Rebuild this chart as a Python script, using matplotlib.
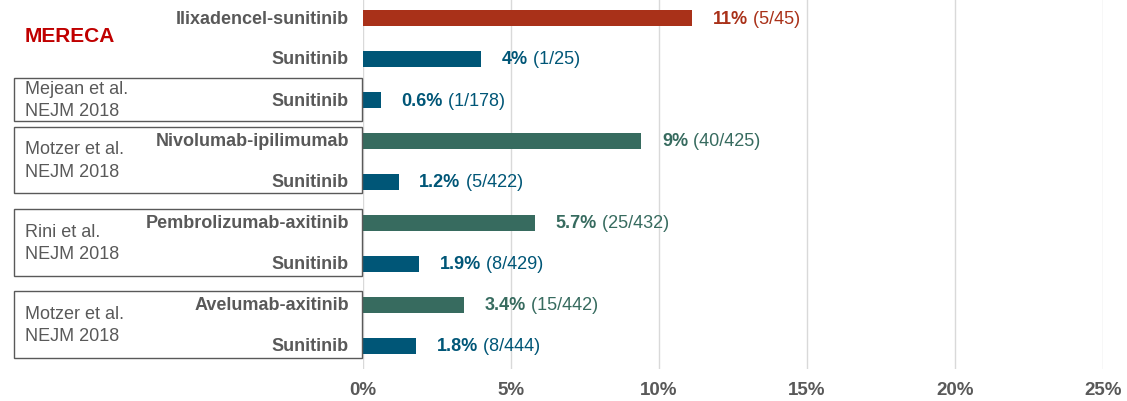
import matplotlib.pyplot as plt
from matplotlib.patches import Rectangle
from matplotlib.transforms import blended_transform_factory

plt.rcParams['font.family'] = ['Liberation Sans', 'DejaVu Sans']

arms = ["Ilixadencel-sunitinib", "Sunitinib", "Sunitinib", "Nivolumab-ipilimumab",
        "Sunitinib", "Pembrolizumab-axitinib", "Sunitinib", "Avelumab-axitinib", "Sunitinib"]
values = [11.1, 4.0, 0.6, 9.4, 1.2, 5.8, 1.9, 3.4, 1.8]
pct_labels = ["11%", "4%", "0.6%", "9%", "1.2%", "5.7%", "1.9%", "3.4%", "1.8%"]
counts = ["(5/45)", "(1/25)", "(1/178)", "(40/425)", "(5/422)",
          "(25/432)", "(8/429)", "(15/442)", "(8/444)"]
arm_type = ["ilix", "suni", "suni", "combo", "suni", "combo", "suni", "combo", "suni"]

# studies: label, first row, last row
studies = [("Mejean et al.\nNEJM 2018", 2, 2),
           ("Motzer et al.\nNEJM 2018", 3, 4),
           ("Rini et al.\nNEJM 2018", 5, 6),
           ("Motzer et al.\nNEJM 2018", 7, 8)]
# box padding above first row / below last row (in row units)
box_pad = [(0.54, 0.51), (0.34, 0.27), (0.34, 0.29), (0.34, 0.29)]

colors = {"ilix": "#A93119", "suni": "#005677", "combo": "#376B5F"}
gray = "#595959"
fs = 13

fig = plt.figure(figsize=(11.27, 4.02), dpi=100)
ax = fig.add_axes([363 / 1127, 32 / 402, 740 / 1127, 370 / 402])

ypos = list(range(len(values)))
bar_colors = [colors[t] for t in arm_type]
ax.barh(ypos, values, height=0.39, color=bar_colors, zorder=3)

ax.set_xlim(0, 25)
ax.set_ylim(8 + (370 - 347) / 41, -19 / 41)
ax.set_xticks([0, 5, 10, 15, 20, 25])
ax.set_xticklabels(["0%", "5%", "10%", "15%", "20%", "25%"],
                   fontsize=13.5, fontweight='bold', color=gray)
ax.tick_params(axis='x', length=0, pad=9)
ax.set_yticks([])
ax.grid(axis='x', color='#D9D9D9', linewidth=1, zorder=0)
for s in ax.spines.values():
    s.set_visible(False)

# arm labels
for y, name in zip(ypos, arms):
    ax.text(-14 / 740 * 25, y, name, ha='right', va='center', fontsize=fs,
            fontweight='bold', color=gray, clip_on=False)

# value labels
for y, v, p, c, t in zip(ypos, values, pct_labels, counts, arm_type):
    col = colors[t]
    b = ax.annotate(p, xy=(v, y), xytext=(15, 0), textcoords='offset points',
                    ha='left', va='center', fontsize=fs, fontweight='bold', color=col)
    ax.annotate(" " + c, xy=(1, 0), xycoords=b, ha='left', va='bottom',
                fontsize=fs, color=col)

# study boxes
tr = blended_transform_factory(fig.transFigure, ax.transData)
for (label, r0, r1), (pt, pb) in zip(studies, box_pad):
    y0 = r0 - pt
    y1 = r1 + pb
    rect = Rectangle((14 / 1127, y0), (362 - 14) / 1127, y1 - y0, transform=tr,
                     fill=False, edgecolor=gray, linewidth=1, clip_on=False)
    fig.add_artist(rect)
    fig.text(25 / 1127, (y0 + y1) / 2, label, transform=tr, ha='left', va='center',
             fontsize=fs, color=gray, linespacing=1.4)

fig.text(25 / 1127, 1 - 37 / 402, "MERECA", ha='left', va='center',
         fontsize=15, fontweight='bold', color='#C00000')

fig.savefig("out.png", dpi=100)
